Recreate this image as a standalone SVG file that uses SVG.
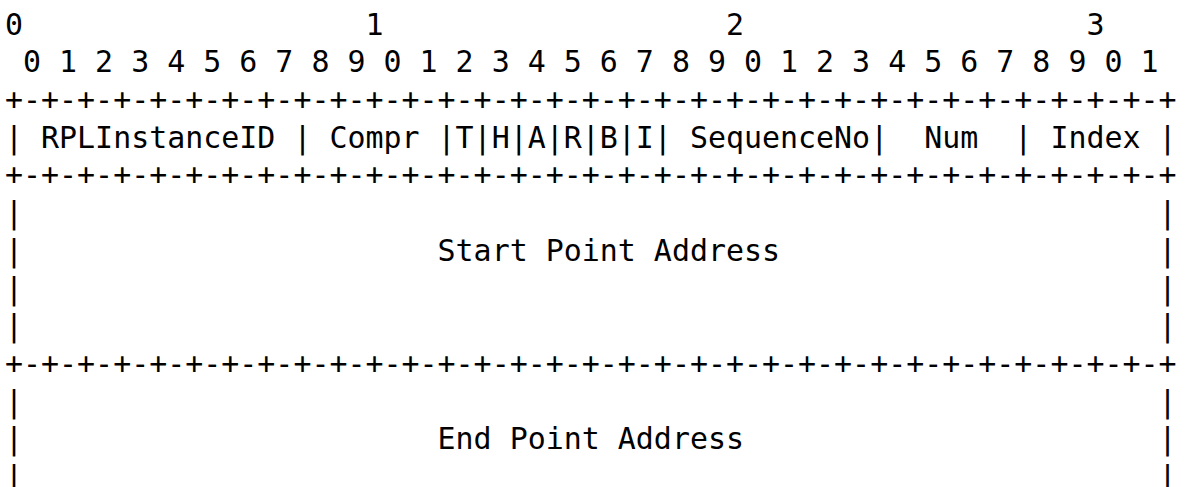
<svg xmlns="http://www.w3.org/2000/svg" width="1186" height="487" viewBox="0 0 1186 487">
<style>
text{font-family:"DejaVu Sans Mono","Liberation Mono",monospace;font-size:29.95px;fill:#000;white-space:pre}
</style>
<rect width="1186" height="487" fill="#fff"/>
<g id="bit-ruler">
<text x="5" y="34.6" xml:space="preserve">0                   1                   2                   3</text>
<text x="5" y="72.3" xml:space="preserve"> 0 1 2 3 4 5 6 7 8 9 0 1 2 3 4 5 6 7 8 9 0 1 2 3 4 5 6 7 8 9 0 1</text>
</g>
<g id="header-fields">
<text x="5" y="110" xml:space="preserve">+-+-+-+-+-+-+-+-+-+-+-+-+-+-+-+-+-+-+-+-+-+-+-+-+-+-+-+-+-+-+-+-+</text>
<text x="5" y="147.7" xml:space="preserve">| RPLInstanceID | Compr |T|H|A|R|B|I| SequenceNo|  Num  | Index |</text>
<text x="5" y="185.4" xml:space="preserve">+-+-+-+-+-+-+-+-+-+-+-+-+-+-+-+-+-+-+-+-+-+-+-+-+-+-+-+-+-+-+-+-+</text>
</g>
<g id="start-point-address">
<text x="5" y="223.1" xml:space="preserve">|                                                               |</text>
<text x="5" y="260.8" xml:space="preserve">|                       Start Point Address                     |</text>
<text x="5" y="298.5" xml:space="preserve">|                                                               |</text>
<text x="5" y="336.2" xml:space="preserve">|                                                               |</text>
<text x="5" y="373.9" xml:space="preserve">+-+-+-+-+-+-+-+-+-+-+-+-+-+-+-+-+-+-+-+-+-+-+-+-+-+-+-+-+-+-+-+-+</text>
</g>
<g id="end-point-address">
<text x="5" y="411.6" xml:space="preserve">|                                                               |</text>
<text x="5" y="449.3" xml:space="preserve">|                       End Point Address                       |</text>
<text x="5" y="487" xml:space="preserve">|                                                               |</text>
</g>
</svg>
